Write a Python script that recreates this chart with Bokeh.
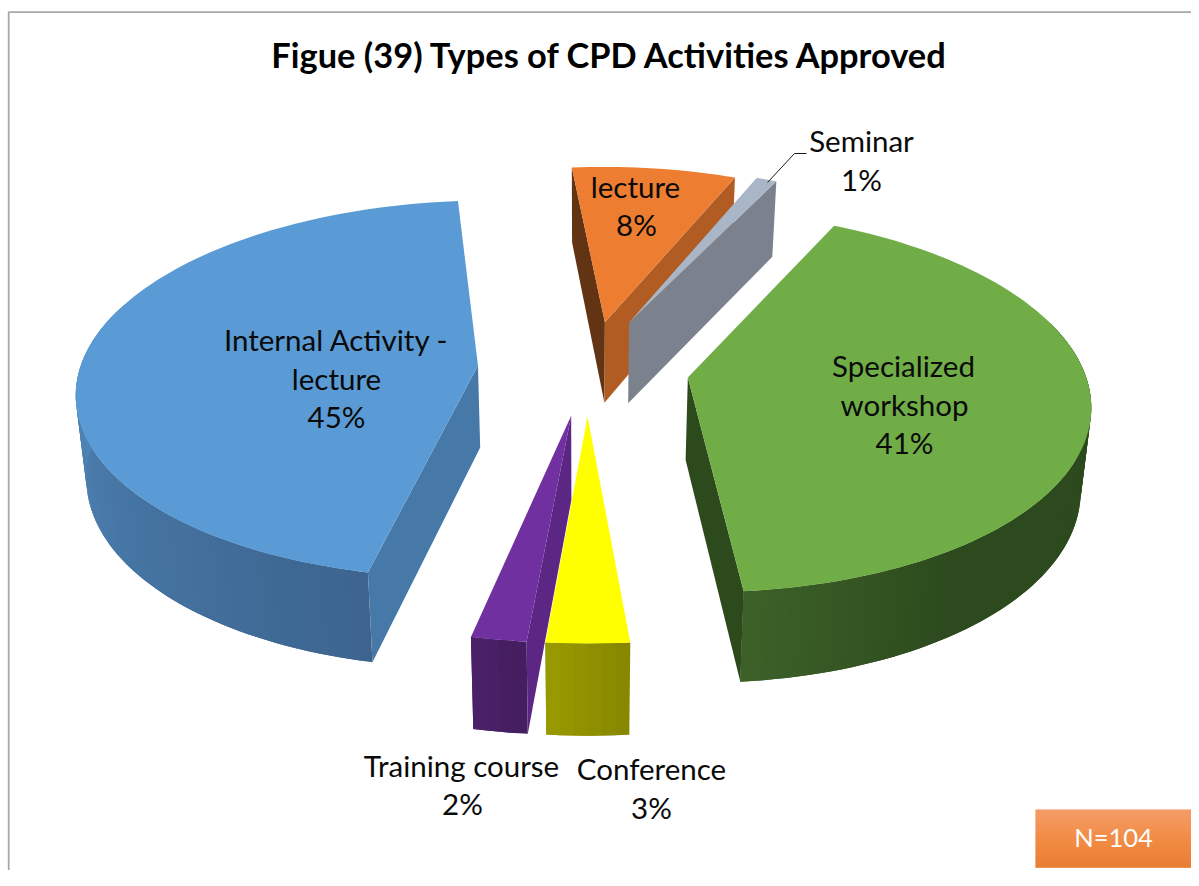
import math
from bokeh.plotting import figure
from bokeh.models import Range1d
from bokeh.core.properties import value
from bokeh.embed import file_html
from bokeh.resources import INLINE

# ---- data ----
title = "Figue (39) Types of CPD Activities Approved"
categories = ["Specialized workshop", "Conference", "Training course",
              "Internal Activity - lecture", "lecture", "Seminar"]
counts = [43, 3, 2, 47, 8, 1]
note = "N=104"

# ---- styles, one entry per category ----
top_colors = ["#70ad47", "#ffff00", "#7030a0", "#5b9bd5", "#ed7d31", "#a9b6c8"]
start_face = ["#2d4a1d", "#888800", "#5c2784", "#4779a8", "#633413", "#7c828d"]
end_face = ["#2d4a1d", "#888800", "#5c2784", "#4779a8", "#b05c22", "#7c828d"]
wall_from = ["#2c4a1d", "#868600", "#431d5f", "#3c648f", "#8a4a1c", "#6c727c"]
wall_to = ["#3d6028", "#9a9a00", "#4c2168", "#5289bb", "#8a4a1c", "#6c727c"]
wall_flat = [0.8, 0.0, 0.0, 0.0, 0.0, 0.0]
wall_end = [1.0, 1.0, 1.0, 0.55, 1.0, 1.0]
explode = [0.265, 0.25, 0.25, 0.265, 0.26, 0.28]
radius = [1.0, 1.0, 1.0, 1.005, 1.0, 1.0]
nudge = [0.5, 4, 3, -1, 6.5, 1.5]
label_font = value("Lato")
label_lines = [
    [("Specialized", 903, 365), ("workshop", 904, 404), ("{}", 904, 442)],
    [("Conference", 651, 768), ("{}", 651, 807)],
    [("Training course", 461, 765), ("{}", 462, 803)],
    [("Internal Activity -", 336, 339), ("lecture", 336, 378), ("{}", 336, 416)],
    [("lecture", 635, 186), ("{}", 636, 224)],
    [("Seminar", 861, 140), ("{}", 861, 179)],
]

# ---- projection of the pie plane to the page ----
CX, CY, SX, SY, K = 583.0, 368.0, 396.0, 185.6, 0.125
START = 26.0


def project(X, Y):
    w = 1.0 / (1.0 + K * Y)
    return CX + SX * X * w, CY - SY * Y * w


def lower(x, y):
    return CX + (x - CX) * 0.979, y + 75 + (y - 170) * 0.0365


def mix(c1, c2, t):
    a = [int(c1[i:i + 2], 16) for i in (1, 3, 5)]
    b = [int(c2[i:i + 2], 16) for i in (1, 3, 5)]
    return "#%02x%02x%02x" % tuple(round(p + (q - p) * t) for p, q in zip(a, b))


p = figure(width=1191, height=870, output_backend="svg", toolbar_location=None,
           x_range=Range1d(0, 1191), y_range=Range1d(870, 0),
           x_axis_location=None, y_axis_location=None, min_border=0)
p.grid.visible = False
p.outline_line_color = None
p.background_fill_color = "white"
p.border_fill_color = "white"

# frame of the chart area
p.line([8.2, 8.2, 1191], [870, 11.6, 11.6], line_color="#a8a8a8", line_width=1.8)

total = sum(counts)
angles = []
a = START
for c in counts:
    angles.append((a, a + c * 360.0 / total))
    a += c * 360.0 / total


def build(i):
    a0, a1 = angles[i]
    mid = math.radians((a0 + a1) / 2)
    ox = explode[i] * math.sin(mid) + nudge[i] / SX
    oy = explode[i] * math.cos(mid)
    n = max(4, int((a1 - a0) / 1.5))
    ts = [a0 + (a1 - a0) * j / n for j in range(n + 1)]
    r = radius[i]
    rim = [project(ox + r * math.sin(math.radians(t)), oy + r * math.cos(math.radians(t))) for t in ts]
    apex = project(ox, oy)
    xs, ys, cs = [], [], []

    def add(pts, col):
        xs.append([q[0] for q in pts])
        ys.append([q[1] for q in pts])
        cs.append(col)

    # outer wall: each strip overlaps the next one so no seams show
    for j in range(n):
        t = (j + 0.5) / n
        if math.cos(math.radians(ts[j])) > 0.3:
            continue
        f = min(1.0, max(0.0, (t - wall_flat[i]) / (wall_end[i] - wall_flat[i])))
        strip = rim[j:min(j + 3, n + 1)]
        add(strip + [lower(*q) for q in reversed(strip)], mix(wall_from[i], wall_to[i], f))

    def area(q):
        return sum(q[m][0] * q[(m + 1) % 4][1] - q[(m + 1) % 4][0] * q[m][1] for m in range(4))

    face_s = [apex, rim[0], lower(*rim[0]), lower(*apex)]
    face_e = [rim[-1], apex, lower(*apex), lower(*rim[-1])]
    if area(face_s) < 0:
        add(face_s, start_face[i])
    if area(face_e) < 0:
        add(face_e, end_face[i])
    add([apex] + rim, top_colors[i])
    p.patches(xs, ys, fill_color=cs, line_color=None)


for i in [3, 0, 4, 5, 2, 1]:
    build(i)

# leader line of the smallest slice
p.line([767, 794, 806], [182, 153, 153], line_color="#1a1a1a", line_width=1)

# labels
tx, ty, tt = [], [], []
for i, lines in enumerate(label_lines):
    pct = f"{round(100 * counts[i] / total)}%"
    for s, x, y in lines:
        tx.append(x)
        ty.append(y)
        tt.append(pct if s == "{}" else s)
p.text(tx, ty, text=tt, text_font=label_font, text_font_size="29.5px", text_color="#0a0a0a",
       text_align="center", text_baseline="middle")

p.text([610], [54], text=[title], text_font=label_font, text_font_style="bold",
       text_font_size="34.4px", text_color="#000000", text_align="center", text_baseline="middle")

# note box with a vertical gradient
BX0, BX1, BY0, BY1 = 1035, 1191, 809, 867
rows = BY1 - BY0
qt = [BY0 + j for j in range(rows)]
qb = [BY0 + j + 1.2 for j in range(rows)]
qc = []
for j in range(rows):
    t = j / (rows - 1)
    qc.append(mix("#f28e52", "#f07a28", t / 0.55) if t < 0.55 else mix("#f07a28", "#e56c17", (t - 0.55) / 0.45))
p.quad(left=[BX0] * rows, right=[BX1] * rows, top=qt, bottom=qb, fill_color=qc, line_color=None)
p.text([1113], [836], text=[note], text_font=label_font, text_font_size="25.5px", text_color="#ffffff",
       text_align="center", text_baseline="middle")

open("out.html", "w").write(file_html(p, INLINE))
